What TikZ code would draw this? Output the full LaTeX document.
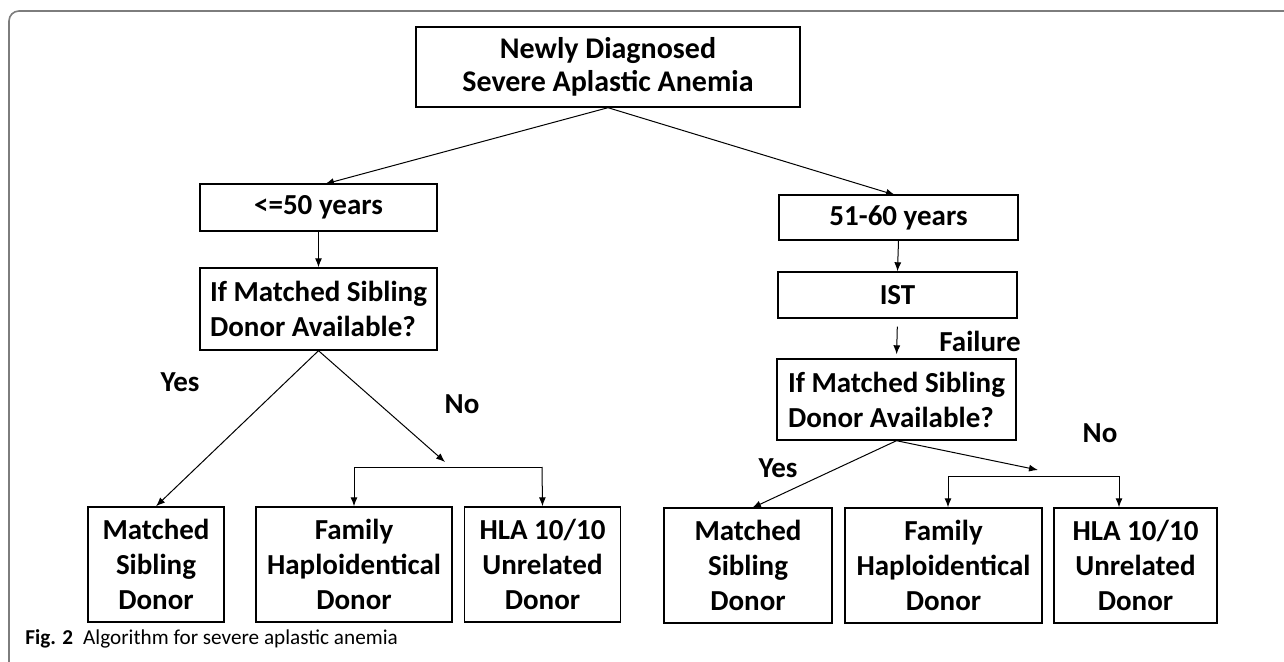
\documentclass[tikz,border=0pt]{standalone}
\usepackage{fontspec}
\setmainfont{Carlito}
\usetikzlibrary{arrows.meta}
\definecolor{frameGray}{RGB}{125,125,125}
\tikzset{
  flowbox/.style={draw,line width=0.7pt,align=center,inner sep=2pt,
    font=\fontsize{14.5}{17.5}\selectfont\bfseries},
  asklabel/.style={font=\fontsize{14.5}{16}\selectfont\bfseries},
  flowarrow/.style={-{Latex[length=4.5pt,width=3.5pt]},line width=0.5pt}
}

\begin{document}
\begin{tikzpicture}[x=0.5pt,y=-0.5pt]
\useasboundingbox (0,0) rectangle (1284,662);
% outer frame
\draw[frameGray,line width=0.8pt,rounded corners=5pt] (9,662) -- (9,11) -- (1284,11);

% top
\node[flowbox,minimum width=192pt,minimum height=40pt,font=\fontsize{15}{16.5}\selectfont\bfseries] (diag) at (608,67) {Newly Diagnosed\\Severe Aplastic Anemia};

% left branch
\node[flowbox,minimum width=118.5pt,minimum height=23.5pt] (young) at (318.5,207.5) {<=50 years};
\node[flowbox,minimum width=118.5pt,minimum height=41pt,align=left] (askA) at (318.5,309) {If Matched Sibling\\Donor Available?};
\node[flowbox,minimum width=68pt,minimum height=57.5pt] (sibA) at (156,564.5) {Matched\\Sibling\\Donor};
\node[flowbox,minimum width=98pt,minimum height=57.5pt] (haploA) at (354,564.5) {Family\\Haploidentical\\Donor};
\node[flowbox,minimum width=78pt,minimum height=57.5pt] (hlaA) at (542.5,564.5) {HLA 10/10\\Unrelated\\Donor};

% right branch
\node[flowbox,minimum width=119.5pt,minimum height=22.5pt] (older) at (898.5,217.5) {51-60 years};
\node[flowbox,minimum width=119.5pt,minimum height=23pt] (ist) at (897.5,295) {IST};
\node[flowbox,minimum width=119.5pt,minimum height=40.5pt,align=left] (askB) at (896.5,399.5) {If Matched Sibling\\Donor Available?};
\node[flowbox,minimum width=84pt,minimum height=57.5pt] (sibB) at (748,565.5) {Matched\\Sibling\\Donor};
\node[flowbox,minimum width=98.5pt,minimum height=57.5pt] (haploB) at (943.5,565.5) {Family\\Haploidentical\\Donor};
\node[flowbox,minimum width=81.5pt,minimum height=57.5pt] (hlaB) at (1135.5,565.5) {HLA 10/10\\Unrelated\\Donor};

% labels
\node[asklabel] (yesA) at (180,382) {Yes};
\node[asklabel] (noA) at (462,404) {No};
\node[asklabel] (fail) at (980,341) {Failure};
\node[asklabel] (yesB) at (778,468) {Yes};
\node[asklabel] (noB) at (1100,433) {No};

% split points
\coordinate (tipA) at (445,462);
\coordinate (forkAl) at (354,467);
\coordinate (forkAr) at (542,467);
\coordinate (tipB) at (1038,470);
\coordinate (forkBl) at (948,476);
\coordinate (forkBr) at (1119,476);

% connectors
\draw[flowarrow] (diag.south) -- (325,184);
\draw[flowarrow] (diag.south) -- (895,195);
\draw[flowarrow] (young) -- (askA);
\draw[flowarrow] (older.south) -- (ist.north);
\draw[flowarrow,shorten <=4pt,shorten >=2pt] (ist.south) -- (askB.north);
\draw[flowarrow] (askA.south) -- (sibA.north);
\draw[flowarrow] (askA.south) -- (tipA);
\draw[flowarrow] (forkAr) -- (forkAl) -- (haploA.north);
\draw[flowarrow] (forkAr) -- (hlaA.north);
\draw[flowarrow] (askB.south) -- (752,508);
\draw[flowarrow] (askB.south) -- (tipB);
\draw[flowarrow] (forkBr) -- (forkBl) -- (forkBl |- haploB.north);
\draw[flowarrow] (forkBr) -- (forkBr |- hlaB.north);

% caption
\node[anchor=base west,inner sep=0pt,font=\fontsize{10.6}{12}\selectfont] (cap) at (25,644) {\textbf{Fig. 2}\hspace{5pt}Algorithm for severe aplastic anemia};
\end{tikzpicture}
\end{document}
